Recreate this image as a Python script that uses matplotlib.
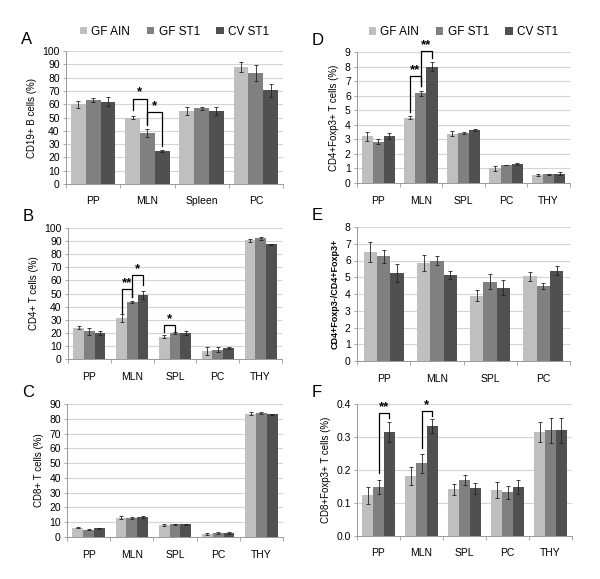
import matplotlib
matplotlib.use("Agg")
import matplotlib.pyplot as plt
import numpy as np

plt.rcParams['font.family'] = ['Liberation Sans', 'DejaVu Sans']

series = ["GF AIN", "GF ST1", "CV ST1"]
colors = ["#bfbfbf", "#808080", "#505050"]

# Panel A
cats_A = ["PP", "MLN", "Spleen", "PC"]
A_ain = [60, 50, 55, 88]
A_st1 = [63.5, 38, 57, 83.5]
A_cv = [62, 25, 55, 70.5]
A_ain_err = [2.5, 0.8, 3, 3.5]
A_st1_err = [1.5, 3, 1, 6]
A_cv_err = [3.5, 0.8, 3, 5]

# Panel B
cats_B = ["PP", "MLN", "SPL", "PC", "THY"]
B_ain = [24, 31, 17, 6, 90.5]
B_st1 = [21, 43.5, 20, 7, 92]
B_cv = [20, 49, 19.5, 8.5, 87.5]
B_ain_err = [1, 3, 1.2, 3, 1]
B_st1_err = [2.5, 1, 0.8, 2, 1.5]
B_cv_err = [1.5, 3, 1.5, 0.8, 0.3]

# Panel C
cats_C = ["PP", "MLN", "SPL", "PC", "THY"]
C_ain = [6.2, 13, 8, 2.2, 83.5]
C_st1 = [5, 13, 8.7, 2.7, 84]
C_cv = [6, 13.5, 8.7, 2.6, 83]
C_ain_err = [0.3, 1, 0.5, 0.8, 0.8]
C_st1_err = [0.3, 0.8, 0.3, 1, 0.8]
C_cv_err = [0.3, 0.8, 0.3, 0.5, 0.5]

# Panel D
cats_D = ["PP", "MLN", "SPL", "PC", "THY"]
D_ain = [3.2, 4.5, 3.4, 1.0, 0.55]
D_st1 = [2.85, 6.15, 3.45, 1.25, 0.6]
D_cv = [3.25, 8.0, 3.65, 1.32, 0.65]
D_ain_err = [0.3, 0.12, 0.15, 0.2, 0.05]
D_st1_err = [0.2, 0.2, 0.05, 0.02, 0.03]
D_cv_err = [0.2, 0.3, 0.08, 0.06, 0.1]

# Panel E
cats_E = ["PP", "MLN", "SPL", "PC"]
E_ain = [6.5, 5.85, 3.9, 5.05]
E_st1 = [6.25, 6.0, 4.72, 4.48]
E_cv = [5.25, 5.12, 4.38, 5.4]
E_ain_err = [0.6, 0.47, 0.33, 0.25]
E_st1_err = [0.38, 0.28, 0.45, 0.18]
E_cv_err = [0.52, 0.25, 0.45, 0.27]

# Panel F
cats_F = ["PP", "MLN", "SPL", "PC", "THY"]
F_ain = [0.123, 0.183, 0.142, 0.14, 0.315]
F_st1 = [0.148, 0.221, 0.171, 0.132, 0.32]
F_cv = [0.316, 0.333, 0.144, 0.149, 0.32]
F_ain_err = [0.026, 0.027, 0.017, 0.024, 0.03]
F_st1_err = [0.022, 0.029, 0.015, 0.021, 0.038]
F_cv_err = [0.03, 0.022, 0.017, 0.022, 0.038]

# significance brackets: (group, left series, right series, top, left leg end, right leg end, label)
sig_A = [(1, 0, 1, 64.2, 55.4, 44.7, "*"), (1, 1, 2, 54.1, 44.9, 28.6, "*")]
sig_B = [(1, 0, 1, 53.3, 35, 47.7, "**"), (1, 1, 2, 64.3, 47.7, 56.6, "*"),
         (2, 0, 1, 26, 20.9, 20.9, "*")]
sig_D = [(1, 0, 1, 7.37, 4.85, 6.64, "**"), (1, 1, 2, 9.09, 6.64, 8.59, "**")]
sig_F = [(0, 1, 2, 0.3726, 0.19, 0.357, "**"), (1, 1, 2, 0.3796, 0.266, 0.365, "*")]

W, H = 600, 579
fig = plt.figure(figsize=(W / 100, H / 100), dpi=100)


def box(x0, y0, x1, y1):
    return [x0 / W, 1 - y1 / H, (x1 - x0) / W, (y1 - y0) / H]


def panel(rect, cats, vals, errs, ymax, ystep, ylabel, letter, sigs, width=0.75,
          yfmt="{:.0f}", ylabel_bold=False, ylabel_size=7):
    ax = fig.add_axes(rect)
    n = len(cats)
    x = np.arange(n)
    bw = width / 3
    for i, (v, e) in enumerate(zip(vals, errs)):
        pos = x + (i - 1) * bw
        ax.bar(pos, v, bw, color=colors[i], edgecolor='none', zorder=2, label=series[i])
        ax.errorbar(pos, v, yerr=e, fmt='none', ecolor='#222222', elinewidth=0.6,
                    capsize=1.5, capthick=0.6, zorder=3)
    ax.set_xlim(-0.5, n - 0.5)
    ax.set_ylim(0, ymax)
    ticks = np.arange(0, ymax + ystep / 2, ystep)
    ax.set_yticks(ticks)
    ax.set_yticklabels([yfmt.format(t) for t in ticks], fontsize=7.5)
    ax.set_xticks(x)
    ax.set_xticklabels(cats, fontsize=7.5)
    ax.set_xticks(np.arange(-0.5, n, 1.0), minor=True)
    ax.tick_params(axis='x', which='major', length=0, pad=9)
    ax.tick_params(axis='x', which='minor', length=3, color='#999999', width=0.6)
    ax.tick_params(axis='y', length=2.5, color='#999999', width=0.6, pad=2)
    ax.yaxis.grid(True, color='#d4d4d4', linewidth=0.8, zorder=0)
    ax.set_axisbelow(True)
    for s in ['top', 'right']:
        ax.spines[s].set_visible(False)
    for s in ['left', 'bottom']:
        ax.spines[s].set_color('#999999')
        ax.spines[s].set_linewidth(0.7)
    ax.set_ylabel(ylabel, fontsize=ylabel_size,
                  fontweight='bold' if ylabel_bold else 'normal', labelpad=4)
    for (g, a, b, top, la, lb, lab) in sigs:
        xa = g + (a - 1) * bw
        xb = g + (b - 1) * bw
        ax.plot([xa, xa, xb, xb], [la, top, top, lb], color='black', lw=0.9,
                zorder=4, clip_on=False)
        ax.text((xa + xb) / 2, top, lab, ha='center', va='bottom', fontsize=9.5,
                fontweight='bold', zorder=4)
    # panel letter placed in figure pixels relative to axes
    ax.annotate(letter, xy=(0, 1), xycoords='axes fraction', xytext=(-45, 4),
                textcoords='offset pixels', fontsize=12, ha='left', va='bottom')
    return ax


axA = panel(box(66, 51, 283, 184), cats_A, [A_ain, A_st1, A_cv],
            [A_ain_err, A_st1_err, A_cv_err], 100, 10, "CD19+ B cells (%)", "A", sig_A,
            width=0.82)
axB = panel(box(68, 228, 282, 359), cats_B, [B_ain, B_st1, B_cv],
            [B_ain_err, B_st1_err, B_cv_err], 100, 10, "CD4+ T cells (%)", "B", sig_B)
axC = panel(box(67, 404, 283, 537), cats_C, [C_ain, C_st1, C_cv],
            [C_ain_err, C_st1_err, C_cv_err], 90, 10, "CD8+ T cells (%)", "C", [])
axD = panel(box(357, 52, 570, 183), cats_D, [D_ain, D_st1, D_cv],
            [D_ain_err, D_st1_err, D_cv_err], 9, 1, "CD4+Foxp3+ T cells (%)", "D", sig_D,
            width=0.78)
axE = panel(box(357, 227, 570, 361), cats_E, [E_ain, E_st1, E_cv],
            [E_ain_err, E_st1_err, E_cv_err], 8, 1, "CD4+Foxp3-/CD4+Foxp3+", "E", [],
            ylabel_bold=True, ylabel_size=6.5)
axF = panel(box(357, 404, 572, 536), cats_F, [F_ain, F_st1, F_cv],
            [F_ain_err, F_st1_err, F_cv_err], 0.4, 0.1, "CD8+Foxp3+ T cells (%)", "F", sig_F,
            yfmt="{:.1f}")

for ax, anchor in [(axA, (0.5, 1.145)), (axD, (0.5, 1.15))]:
    h, l = ax.get_legend_handles_labels()
    ax.legend(h, l, loc='center', bbox_to_anchor=anchor, ncol=3, frameon=False,
              fontsize=8.5, handlelength=0.6, handleheight=0.6, handletextpad=0.4,
              columnspacing=1.4, borderpad=0)

fig.savefig("out.png", dpi=100)
